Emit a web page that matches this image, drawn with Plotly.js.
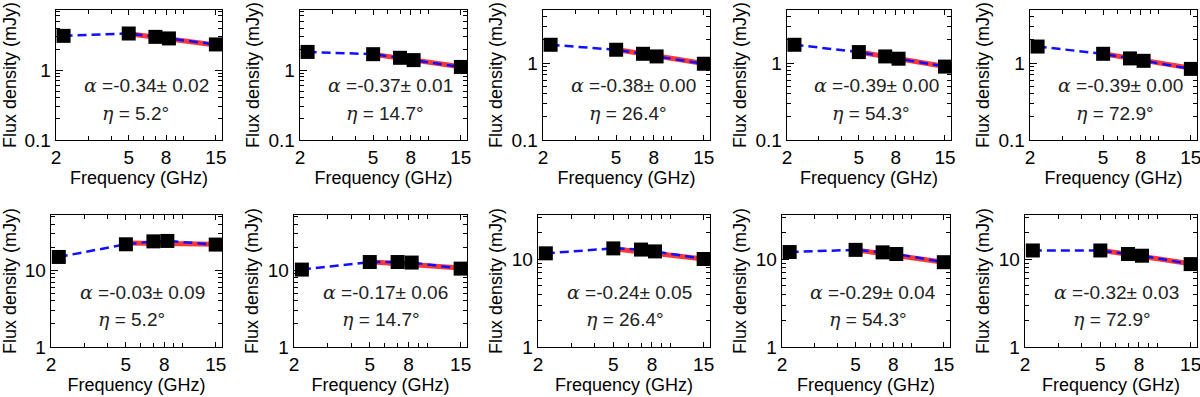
<!DOCTYPE html>
<html>
<head>
<meta charset="utf-8">
<script src="https://cdn.plot.ly/plotly-3.0.1.min.js"></script>
<style>
  html, body { margin: 0; padding: 0; background: #fff; }
  #plot { width: 1200px; height: 397px; }
</style>
</head>
<body>
<div id="plot"></div>
<script>
// observing frequencies (GHz), shared by every panel
const freq = [2.2, 5.0, 7.0, 8.3, 15.0];
const fitFreq = [5, 15];

// top row: flux density (mJy) per panel
const fluxTop = [
    [3.09, 3.34, 2.99, 2.84, 2.33],
    [1.82, 1.69, 1.50, 1.39, 1.11],
    [1.73, 1.49, 1.32, 1.22, 0.98],
    [1.73, 1.39, 1.22, 1.14, 0.90],
    [1.64, 1.32, 1.15, 1.07, 0.84]
];
const fitTop = [[3.32, 2.28], [1.68, 1.12], [1.50, 0.99], [1.39, 0.905], [1.32, 0.86]];

// bottom row
const fluxBot = [
    [14.9, 21.8, 23.8, 24.1, 21.6],
    [10.2, 12.8, 12.8, 12.6, 10.5],
    [11.6, 13.2, 12.8, 12.2, 10.0],
    [12.0, 12.7, 11.9, 11.4, 9.2],
    [12.5, 12.5, 11.4, 10.9, 8.75]
];
const fitBot = [[22.6, 21.8], [12.9, 10.7], [13.1, 10.0], [12.7, 9.2], [12.6, 8.85]];

const alphaTop = ["-0.34± 0.02", "-0.37± 0.01", "-0.38± 0.00", "-0.39± 0.00", "-0.39± 0.00"];
const alphaBot = ["-0.03± 0.09", "-0.17± 0.06", "-0.24± 0.05", "-0.29± 0.04", "-0.32± 0.03"];
const etaDeg = ["5.2", "14.7", "26.4", "54.3", "72.9"];

const xTicks = [2, 5, 8, 15];
const xMinor = [3, 4, 6, 7, 9, 10];

const W = 1200, H = 397;
const FONT = "Liberation Sans, Arial, sans-serif";
const MATH = "DejaVu Serif, serif";

// pixel boxes of each panel [left, right]
const colTop = [[56, 222], [300, 467], [543, 710], [787, 951], [1030, 1197]];
const colBot = [[51, 222], [294, 467], [538, 710], [782, 950], [1025, 1197]];
const rowTop = [10, 140];
const rowBot = [215, 347];
const yRangeTop = [[-1, 0.86], [-1, 0.86], [-1, 0.69], [-1, 0.69], [-1, 0.69]];
const yRangeBot = [[0, 1.72], [0, 1.72], [0, 1.5], [0, 1.5], [0, 1.5]];

let data = [];
let layout = {
    width: W, height: H,
    margin: { l: 0, r: 0, t: 0, b: 0 },
    paper_bgcolor: '#fff', plot_bgcolor: '#fff',
    showlegend: false,
    font: { family: FONT, size: 18, color: '#000' },
    annotations: []
};

function addPanel(idx, flux, fit, alpha, eta, cols, rows, yr, top) {
    let n = idx + 1;
    let xa = 'x' + (n === 1 ? '' : n), ya = 'y' + (n === 1 ? '' : n);

    data.push({
        x: fitFreq, y: fit, xaxis: xa, yaxis: ya,
        mode: 'lines', line: { color: 'rgba(255,20,20,0.85)', width: 5 },
        hoverinfo: 'skip'
    });
    data.push({
        x: freq, y: flux, xaxis: xa, yaxis: ya,
        mode: 'lines+markers',
        line: { color: '#1010ff', width: 2.5, dash: '9px,5px' },
        marker: { symbol: 'square', size: 14, color: '#000' }
    });

    let yMajor = top ? [0.1, 1] : [1, 10];
    let yMinor = top ? [0.2, 0.3, 0.4, 0.5, 0.6, 0.7, 0.8, 0.9, 2, 3, 4, 5, 6, 7]
                     : [2, 3, 4, 5, 6, 7, 8, 9, 20, 30, 40, 50];

    let axBase = {
        showline: true, linecolor: '#000', linewidth: 1.3, mirror: 'allticks',
        ticks: 'inside', ticklen: 6, tickwidth: 1, tickcolor: '#000',
        showgrid: false, zeroline: false, automargin: false,
        ticklabeloverflow: 'allow',
        tickfont: { family: FONT, size: 19, color: '#000' }
    };
    layout['xaxis' + (n === 1 ? '' : n)] = Object.assign({}, axBase, {
        type: 'log', anchor: ya,
        domain: [cols[0] / W, cols[1] / W],
        range: [Math.log10(2), Math.log10(16.2)],
        tickmode: 'array', tickvals: xTicks, ticktext: xTicks.map(String),
        ticklen: 5,
        minor: { tickmode: 'array', tickvals: xMinor, ticks: 'inside', ticklen: 4, tickcolor: '#000', showgrid: false },
        title: { text: 'Frequency (GHz)', font: { family: FONT, size: 18 }, standoff: 2 }
    });
    layout['yaxis' + (n === 1 ? '' : n)] = Object.assign({}, axBase, {
        type: 'log', anchor: xa,
        domain: [1 - rows[1] / H, 1 - rows[0] / H],
        range: yr,
        tickmode: 'array', tickvals: yMajor, ticktext: yMajor.map(String),
        ticklen: 7,
        minor: { tickmode: 'array', tickvals: yMinor, ticks: 'inside', ticklen: 4, tickcolor: '#000', showgrid: false },
        title: { text: 'Flux density (mJy)', font: { family: FONT, size: 18 }, standoff: 4 }
    });

    layout.annotations.push({
        xref: xa + ' domain', yref: ya + ' domain', x: 0.155, y: 0.42,
        xanchor: 'left', yanchor: 'middle', showarrow: false,
        text: '<span style="font-family:' + MATH + '"><i>α</i></span> =' + alpha,
        font: { family: FONT, size: 19, color: '#222' }
    });
    layout.annotations.push({
        xref: xa + ' domain', yref: ya + ' domain', x: 0.265, y: 0.21,
        xanchor: 'left', yanchor: 'middle', showarrow: false,
        text: '<span style="font-family:' + MATH + '"><i>η</i></span> = ' + eta + '°',
        font: { family: FONT, size: 19, color: '#222' }
    });
}

for (let i = 0; i < 5; i++) {
    addPanel(i, fluxTop[i], fitTop[i], alphaTop[i], etaDeg[i], colTop[i], rowTop, yRangeTop[i], true);
}
for (let i = 0; i < 5; i++) {
    addPanel(i + 5, fluxBot[i], fitBot[i], alphaBot[i], etaDeg[i], colBot[i], rowBot, yRangeBot[i], false);
}

Plotly.newPlot('plot', data, layout, { staticPlot: true });
</script>
</body>
</html>
